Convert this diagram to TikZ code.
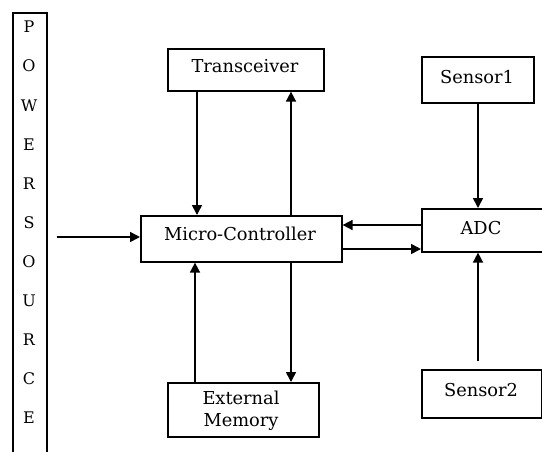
\documentclass[tikz,border=0pt]{standalone}
\usepackage{fontspec}
\setmainfont{DejaVu Serif}
\usetikzlibrary{arrows.meta}
\begin{document}
\begin{tikzpicture}[x=1pt,y=-1pt,
  box/.style={draw, line width=1.6pt, inner sep=0pt, anchor=north west},
  lbl/.style={inner sep=0pt, font=\fontsize{17.8}{21.7}\selectfont, align=center},
  conn/.style={line width=1.6pt, -{Triangle[length=10pt,width=10pt]}}]
\useasboundingbox (0,0) rectangle (542,451);
\clip (0,0) rectangle (542,451);
% power source
\node[box, minimum width=34pt, minimum height=470pt] (power) at (12,12) {};
\node[inner sep=0pt, anchor=north, align=center, font=\fontsize{16}{39.1}\selectfont] (powertext) at (29,21) {P\\O\\W\\E\\R\\S\\O\\U\\R\\C\\E};
% boxes
\node[box, minimum width=156pt, minimum height=42pt] (trans) at (167,48) {};
\node[lbl] (transtext) at (245,66) {Transceiver};
\node[box, minimum width=201pt, minimum height=46pt] (mc) at (140,215) {};
\node[lbl] (mctext) at (240,234) {Micro-Controller};
\node[box, minimum width=151pt, minimum height=54pt] (mem) at (167,382) {};
\node[lbl] (memtext) at (241,411) {External\\Memory};
\node[box, minimum width=112pt, minimum height=46pt] (s1) at (421,56) {};
\node[lbl] (s1text) at (477,77) {Sensor1};
\node[box, minimum width=140pt, minimum height=43pt] (adc) at (421,208) {};
\node[lbl] (adctext) at (481,228) {ADC};
\node[box, minimum width=120pt, minimum height=48pt] (s2) at (421,369) {};
\node[lbl] (s2text) at (481,390) {Sensor2};
% connectors
\draw[conn] (trans.south -| 197,0) -- (mc.north -| 197,0);
\draw[conn] (mc.north -| 291,0) -- (trans.south -| 291,0);
\draw[conn] (mem.north -| 195,0) -- (mc.south -| 195,0);
\draw[conn] (mc.south -| 291,0) -- (mem.north -| 291,0);
\draw[conn] (s1.south -| 478,0) -- (adc.north -| 478,0);
\draw[conn, shorten <=8pt] (s2.north -| 478,0) -- (adc.south -| 478,0);
\draw[conn] (adc.west |- 0,225) -- (mc.east |- 0,225);
\draw[conn] (mc.east |- 0,249) -- (adc.west |- 0,249);
\draw[conn, shorten <=9pt] (power.east |- 0,237) -- (mc.west |- 0,237);
\end{tikzpicture}
\end{document}
